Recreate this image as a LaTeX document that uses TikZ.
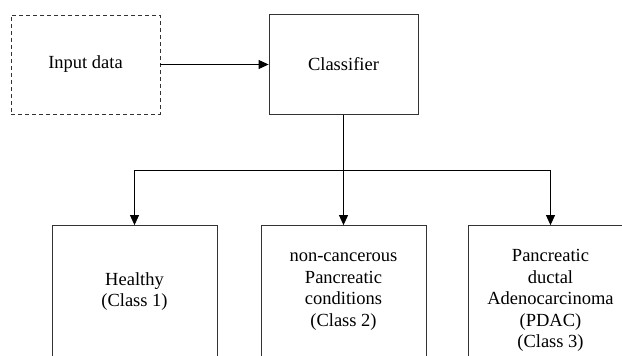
\documentclass[tikz,border=0pt]{standalone}
\usepackage{fontspec}
\setmainfont{Liberation Serif}
\usetikzlibrary{arrows.meta}
\tikzstyle{inputbox} = [rectangle, minimum width=149pt, minimum height=99pt,
text centered, draw=black!80, line width=0.8pt, dash pattern=on 4pt off 3pt]
\tikzstyle{classbox} = [rectangle, minimum width=149pt, minimum height=100pt,
text centered, draw=black!80, line width=0.8pt]
\tikzstyle{outbox} = [rectangle, minimum width=165pt, minimum height=132pt,
text centered, align=center, draw=black!80, line width=0.8pt]
\tikzstyle{arrow} = [line width=0.8pt, ->, >={Triangle[length=10pt, width=9pt]}]

\begin{document}
\begin{tikzpicture}[node distance = 258pt, font=\rmfamily\fontsize{18.5}{21.5}\selectfont]

\useasboundingbox (0,0) rectangle (622pt,-356pt);
\clip (0,0) rectangle (622pt,-356pt);

% ------------------------- nodes -------------------------

% ----- node: 0
\node(0)[inputbox] at (85.5pt,-64.5pt) {Input data};
% ----- node: 1
\node(1)[classbox, right of=0] {Classifier};
% ----- node: 3
\node(3)[outbox, below of=1, yshift=31pt] {non-cancerous\\Pancreatic\\conditions\\(Class 2)};
% ----- node: 2
\node(2)[outbox, left of=3, node distance=206pt, xshift=-3pt] {Healthy\\(Class 1)};
% ----- node: 4
\node(4)[outbox, right of=3, node distance=206pt, xshift=1pt, yshift=-9pt, minimum height=150pt] {Pancreatic\\ductal\\Adenocarcinoma\\(PDAC)\\(Class 3)};
% ----- bus
\coordinate[below of=1, node distance=106pt] (5);

% ------------------------- arrows -------------------------
\draw[arrow] (0) -- (1);
\draw[line width=0.8pt] (1) -- (5);
\draw[arrow] (5) -| (2.north);
\draw[arrow] (5) -- (3.north);
\draw[arrow] (5) -| (4.north);

\end{tikzpicture}
\end{document}
